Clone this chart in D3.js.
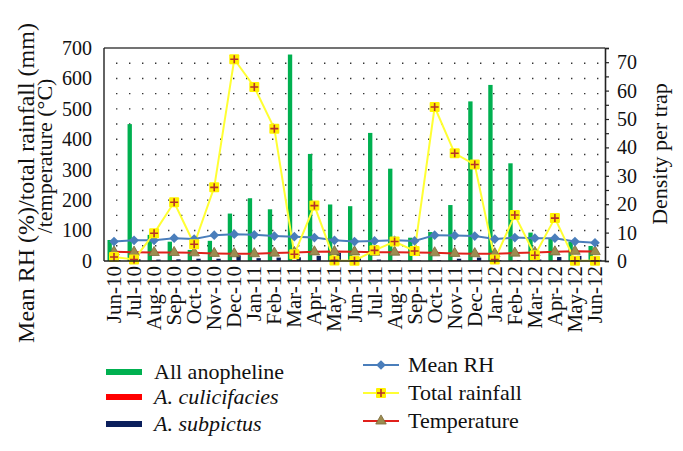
<!DOCTYPE html>
<html>
<head>
<meta charset="utf-8">
<script src="https://cdn.jsdelivr.net/npm/d3@7"></script>
<style>
  html, body { margin: 0; padding: 0; background: #fff; }
  svg { display: block; }
</style>
</head>
<body>
<svg id="chart" width="683" height="451"></svg>
<script>
const months = ["Jun-10","Jul-10","Aug-10","Sep-10","Oct-10","Nov-10","Dec-10","Jan-11","Feb-11","Mar-11","Apr-11","May-11","Jun-11","Jul-11","Aug-11","Sep-11","Oct-11","Nov-11","Dec-11","Jan-12","Feb-12","Mar-12","Apr-12","May-12","Jun-12"];
// Density per trap (right axis)
const allAnopheline = [7.4,48.2,9.2,6.8,3.9,7.1,16.7,22.1,18.2,72.7,37.7,19.9,19.3,45.1,32.5,8.2,10.2,19.7,56.2,62.0,34.4,10.0,8.0,6.8,5.3];
const culicifacies  = [0.2,0.2,0.2,0.2,0.2,0.3,0.3,0.2,0.2,0.3,0.3,0.3,0.2,0.2,0.2,0.2,0.2,0.2,0.3,0.2,0.2,0.2,0.2,0.3,0.2];
const subpictus     = [0.3,0.6,0.5,0.6,0.8,0.8,2.0,1.0,1.2,1.3,1.8,2.9,1.4,0.5,0.3,0.2,0.3,0.8,1.2,0.3,0.3,0.5,1.4,1.8,0.4];
// Left axis
const meanRH       = [64,68,68,75,72,85,88,86,82,80,77,68,64,66,68,66,85,84,82,72,77,75,75,64,60];
const totalRain    = [13,5,91,193,55,242,663,572,435,22,182,2,1,35,64,33,506,354,317,5,151,19,141,1,1];
const temperature  = [30,29,28,28,27,25,24,24,26,28,30,31,30,29,29,28,27,25,24,24,26,28,30,32,31];
const leftTicks  = [0,100,200,300,400,500,600,700];
const rightTicks = [0,10,20,30,40,50,60,70];
const gridValues = [50,100,150,200,250,300,350,400,450,500,550,600,650];

const FONT = "Liberation Serif";
const svg = d3.select("#chart");
const L = 104, R = 605, T = 48, B = 261;

const x = d3.scaleBand().domain(months).range([L, R]).paddingInner(0.35).paddingOuter(0.175);
const xs = d3.scaleBand().domain(["all","cul","sub"]).range([0, x.bandwidth()]);
const xc = m => x(m) + x.bandwidth() / 2;
const yL = d3.scaleLinear().domain([0, 700]).range([B, T]);
const yR = d3.scaleLinear().domain([0, 75]).range([B, T]);

// dotted grid
svg.append("g").selectAll("line").data(gridValues).join("line")
  .attr("x1", L + 12).attr("x2", R - 4)
  .attr("y1", d => yL(d)).attr("y2", d => yL(d))
  .attr("stroke", "#333").attr("stroke-width", 1.4)
  .attr("stroke-dasharray", "1.4,11.6");

// bars
const barSeries = [
  {key: "all", vals: allAnopheline, color: "#00B050"},
  {key: "cul", vals: culicifacies, color: "#FF0000"},
  {key: "sub", vals: subpictus, color: "#0B1F5C"}
];
barSeries.forEach(s => {
  svg.append("g").selectAll("rect").data(months).join("rect")
    .attr("x", (m) => x(m) + xs(s.key))
    .attr("width", xs.bandwidth())
    .attr("y", (m, i) => yR(s.vals[i]))
    .attr("height", (m, i) => B - yR(s.vals[i]))
    .attr("fill", s.color);
});

// lines
const lineGen = vals => d3.line().x((d, i) => xc(months[i])).y(d => yL(d))(vals);

svg.append("path").attr("d", lineGen(temperature)).attr("fill", "none")
  .attr("stroke", "#E0201B").attr("stroke-width", 2);
svg.append("path").attr("d", lineGen(meanRH)).attr("fill", "none")
  .attr("stroke", "#4A7EBB").attr("stroke-width", 2);
svg.append("path").attr("d", lineGen(totalRain)).attr("fill", "none")
  .attr("stroke", "#FFFF33").attr("stroke-width", 2);

const tri = d3.symbol().type(d3.symbolTriangle).size(48);
function triMark(g, cx, cy) {
  g.append("path").attr("d", tri()).attr("transform", `translate(${cx},${cy})`)
    .attr("fill", "#9C8C50").attr("stroke", "#7A6A3A").attr("stroke-width", 0.8);
}
function diamond(g, cx, cy) {
  g.append("path").attr("d", d3.symbol().type(d3.symbolDiamond2).size(60)())
    .attr("transform", `translate(${cx},${cy})`).attr("fill", "#4A7EBB");
}
function plusMark(g, cx, cy) {
  g.append("rect").attr("x", cx - 5).attr("y", cy - 5).attr("width", 10).attr("height", 10)
    .attr("fill", "#FFF200").attr("rx", 1);
  g.append("path").attr("d", `M${cx-4},${cy}H${cx+4}M${cx},${cy-4}V${cy+4}`)
    .attr("stroke", "#B5302A").attr("stroke-width", 1.6);
}
const mk = svg.append("g");
temperature.forEach((v, i) => triMark(mk, xc(months[i]), yL(v)));
meanRH.forEach((v, i) => diamond(mk, xc(months[i]), yL(v)));
totalRain.forEach((v, i) => plusMark(mk, xc(months[i]), yL(v)));

// frame / axes
svg.append("line").attr("x1", L).attr("x2", R).attr("y1", T).attr("y2", T).attr("stroke", "#444").attr("stroke-width", 1.6);
svg.append("line").attr("x1", L).attr("x2", R).attr("y1", B).attr("y2", B).attr("stroke", "#222").attr("stroke-width", 1.6);
svg.append("line").attr("x1", L).attr("x2", L).attr("y1", T).attr("y2", B).attr("stroke", "#222").attr("stroke-width", 1.4);

const axL = svg.append("g").attr("transform", `translate(${L},0)`)
  .call(d3.axisLeft(yL).tickValues(leftTicks).tickSize(0).tickPadding(12));
axL.select(".domain").remove();
axL.selectAll("text").attr("font-size", 20).attr("font-family", FONT).attr("fill", "#111");

const axR = svg.append("g").attr("transform", `translate(${R},0)`)
  .call(d3.axisRight(yR).ticks(15).tickSize(4).tickPadding(8).tickFormat(d => rightTicks.includes(d) ? d : ""));
axR.select(".domain").attr("stroke", "#222").attr("stroke-width", 1.6);
axR.selectAll("line").attr("stroke", "#222").attr("stroke-width", 1.2);
axR.selectAll("text").attr("font-size", 20).attr("font-family", FONT).attr("fill", "#111");

// x labels
svg.append("g").selectAll("text").data(months).join("text")
  .attr("transform", m => `translate(${xc(m) + 7},${B + 5}) rotate(-90)`)
  .attr("text-anchor", "end")
  .attr("font-size", 21).attr("font-family", FONT).attr("fill", "#111")
  .text(m => m);

// axis titles
svg.append("text").attr("transform", "translate(34,183) rotate(-90)")
  .attr("text-anchor", "middle").attr("font-size", 24).attr("font-family", FONT).attr("fill", "#111")
  .text("Mean RH (%)/total rainfall (mm)");
svg.append("text").attr("transform", "translate(52,156) rotate(-90)")
  .attr("text-anchor", "middle").attr("font-size", 22).attr("font-family", FONT).attr("fill", "#111")
  .text("/temperature (°C)");
svg.append("text").attr("transform", "translate(667,154) rotate(-90)")
  .attr("text-anchor", "middle").attr("font-size", 22).attr("font-family", FONT).attr("fill", "#111")
  .text("Density per trap");

// legend
const lg = svg.append("g");
const barLegend = [
  {label: "All anopheline", color: "#00B050", y: 372, italic: false},
  {label: "A. culicifacies", color: "#FF0000", y: 397, italic: true},
  {label: "A. subpictus", color: "#0B1F5C", y: 424, italic: true}
];
barLegend.forEach(d => {
  lg.append("rect").attr("x", 106).attr("y", d.y - 3).attr("width", 36).attr("height", 6).attr("fill", d.color);
  lg.append("text").attr("x", 154).attr("y", d.y + 7).attr("font-size", 22).attr("font-family", FONT).attr("fill", "#111")
    .attr("font-style", d.italic ? "italic" : "normal").text(d.label);
});
const lineLegend = [
  {label: "Mean RH", y: 365, color: "#4A7EBB", mark: diamond},
  {label: "Total rainfall", y: 393, color: "#FFFF33", mark: plusMark},
  {label: "Temperature", y: 421, color: "#E0201B", mark: triMark}
];
lineLegend.forEach(d => {
  lg.append("line").attr("x1", 363).attr("x2", 399).attr("y1", d.y).attr("y2", d.y)
    .attr("stroke", d.color).attr("stroke-width", 2);
  d.mark(lg, 381, d.y);
  lg.append("text").attr("x", 408).attr("y", d.y + 7).attr("font-size", 22).attr("font-family", FONT).attr("fill", "#111").text(d.label);
});
</script>
</body>
</html>
